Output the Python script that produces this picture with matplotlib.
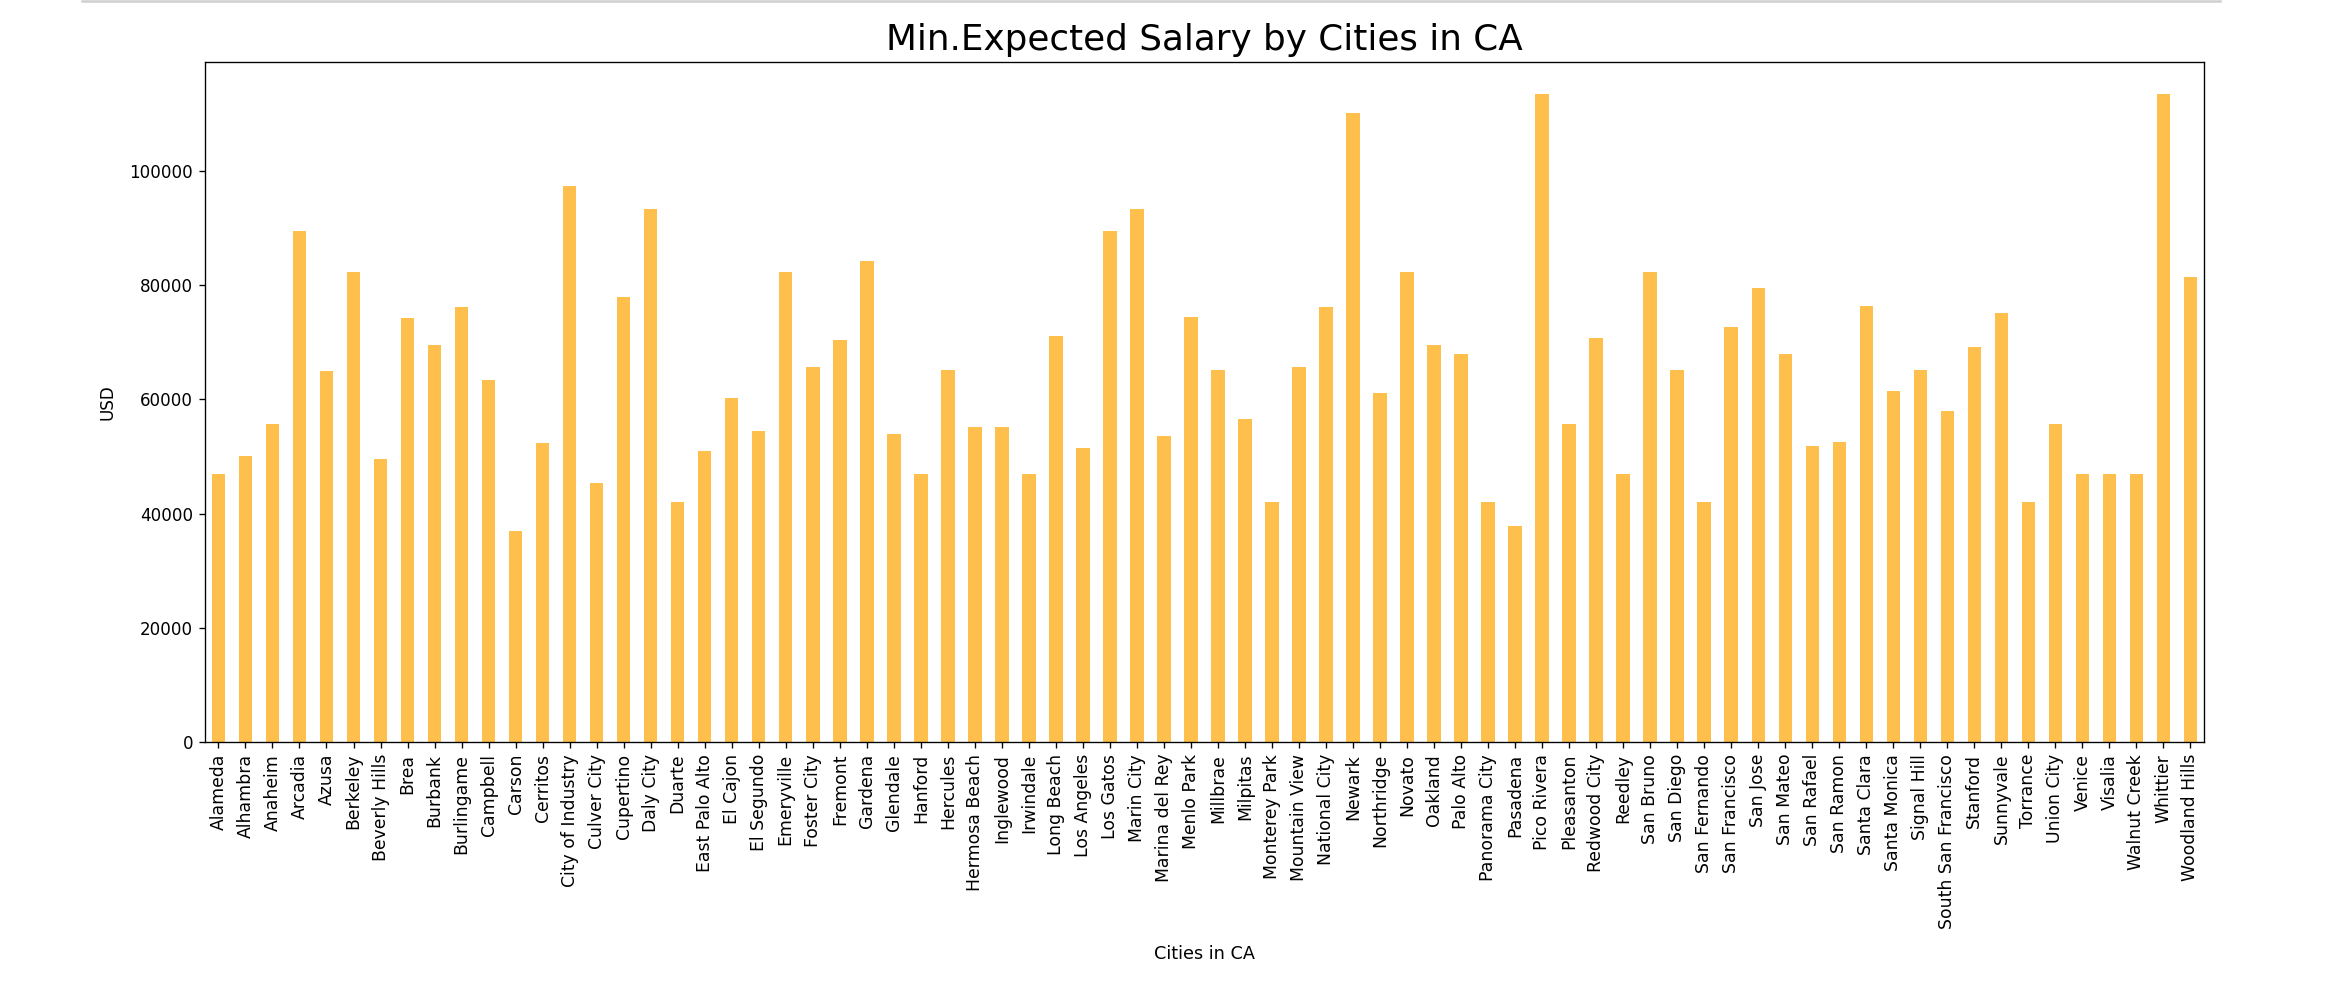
import matplotlib
matplotlib.use('Agg')
import matplotlib.pyplot as plt
from matplotlib.lines import Line2D

# city names (x axis)
cities = ['Alameda', 'Alhambra', 'Anaheim', 'Arcadia', 'Azusa', 'Berkeley',
          'Beverly Hills', 'Brea', 'Burbank', 'Burlingame', 'Campbell', 'Carson',
          'Cerritos', 'City of Industry', 'Culver City', 'Cupertino', 'Daly City',
          'Duarte', 'East Palo Alto', 'El Cajon', 'El Segundo', 'Emeryville',
          'Foster City', 'Fremont', 'Gardena', 'Glendale', 'Hanford', 'Hercules',
          'Hermosa Beach', 'Inglewood', 'Irwindale', 'Long Beach', 'Los Angeles',
          'Los Gatos', 'Marin City', 'Marina del Rey', 'Menlo Park', 'Millbrae',
          'Milpitas', 'Monterey Park', 'Mountain View', 'National City', 'Newark',
          'Northridge', 'Novato', 'Oakland', 'Palo Alto', 'Panorama City',
          'Pasadena', 'Pico Rivera', 'Pleasanton', 'Redwood City', 'Reedley',
          'San Bruno', 'San Diego', 'San Fernando', 'San Francisco', 'San Jose',
          'San Mateo', 'San Rafael', 'San Ramon', 'Santa Clara', 'Santa Monica',
          'Signal Hill', 'South San Francisco', 'Stanford', 'Sunnyvale', 'Torrance',
          'Union City', 'Venice', 'Visalia', 'Walnut Creek', 'Whittier',
          'Woodland Hills']

# min expected salary (USD)
salary = [47000, 50000, 55700, 89500, 65000, 82300,
          49500, 74200, 69500, 76100, 63300, 37000,
          52300, 97300, 45400, 77900, 93300,
          42000, 51000, 60200, 54500, 82300,
          65700, 70400, 84300, 53900, 47000, 65100,
          55100, 55100, 47000, 71100, 51400,
          89500, 93300, 53500, 74500, 65100,
          56600, 42000, 65700, 76100, 110200,
          61100, 82300, 69500, 67900, 42000,
          37800, 113400, 55700, 70800, 47000,
          82300, 65100, 42000, 72700, 79500,
          67900, 51900, 52600, 76400, 61400,
          65100, 57900, 69200, 75100, 42000,
          55700, 47000, 47000, 47000, 113400,
          81400]

fig = plt.figure(figsize=(2334 / 121, 982 / 121), dpi=121)
ax = fig.add_axes([0.0878, 0.2444, 0.8565, 0.6925])

pos = range(len(cities))
ax.bar(pos, salary, width=0.5, color='orange', alpha=0.7)
ax.set_xlim(-0.5, len(cities) - 0.5)
ax.set_xticks(list(pos))
ax.set_xticklabels(cities, rotation=90, fontsize=10.3)

ax.set_title('Min.Expected Salary by Cities in CA', fontsize=21.3, pad=7)
ax.set_xlabel('Cities in CA', fontsize=10.5, labelpad=10)
ax.set_ylabel('USD', labelpad=7.5)

# thin notebook separator line at the very top
fig.add_artist(Line2D([0.035, 0.951], [0.9985, 0.9985], color='#cfcfcf', linewidth=1.5))

plt.savefig('out.png', dpi=121)
